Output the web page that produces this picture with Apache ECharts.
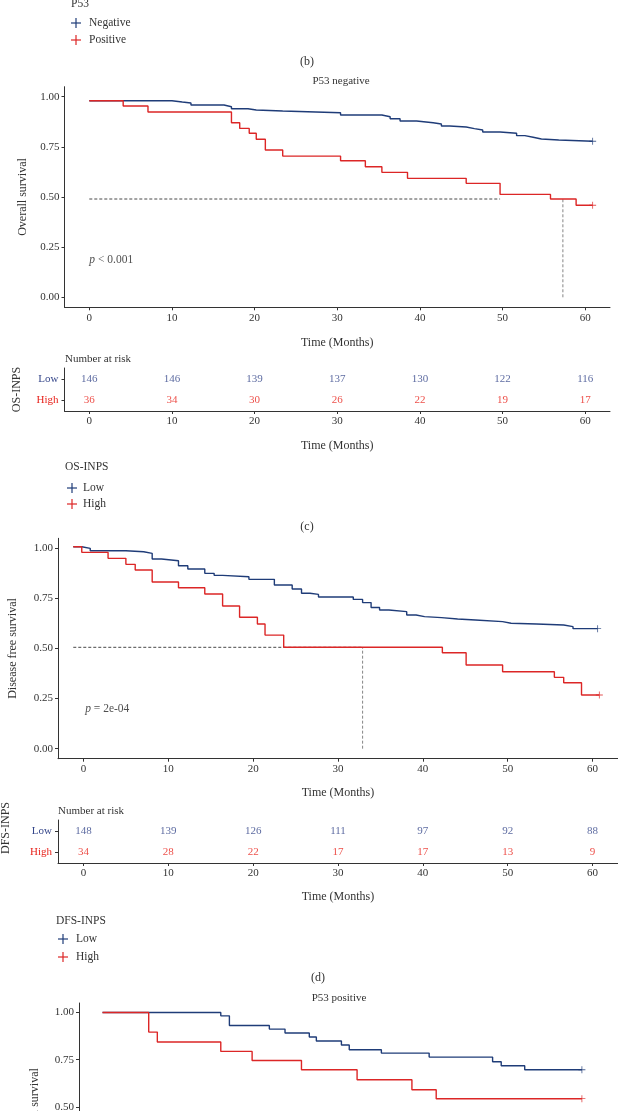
<!DOCTYPE html>
<html>
<head>
<meta charset="utf-8">
<script src="https://cdn.jsdelivr.net/npm/echarts@6/dist/echarts.min.js"></script>
<style>
html,body{margin:0;padding:0;background:#fff;overflow:hidden;}
#main{width:618px;height:1111px;}
</style>
</head>
<body>
<div id="main"></div>
<script>
// ---- data ----
var monthTicks = [0, 10, 20, 30, 40, 50, 60];
var survTicks = [0, 0.25, 0.5, 0.75, 1];
var riskGroups = ['High', 'Low'];

// (c) P53 negative, overall survival
var osLowT = [0, 10.0, 11.25, 12.3, 16.3, 17.2, 19.2, 20.2, 23.4, 30.4, 35.4, 36.4, 37.6, 39.6, 41.6, 42.6, 43.6, 45.6, 46.6, 47.6, 49.7, 51.7, 52.7, 53.7, 54.7, 56.8, 60.9];
var osLowS = [0.98, 0.974, 0.969, 0.959, 0.95, 0.94, 0.934, 0.929, 0.92, 0.909, 0.90, 0.89, 0.879, 0.87, 0.864, 0.854, 0.849, 0.841, 0.834, 0.824, 0.818, 0.806, 0.798, 0.789, 0.784, 0.778, 0.778];
var osHighT = [0, 4.1, 7.1, 17.2, 18.2, 19.35, 20.2, 21.3, 23.4, 30.4, 33.4, 35.4, 38.5, 45.6, 49.7, 55.8, 58.9, 60.9];
var osHighS = [0.98, 0.954, 0.924, 0.87, 0.842, 0.818, 0.788, 0.734, 0.704, 0.681, 0.651, 0.623, 0.593, 0.568, 0.513, 0.49, 0.459, 0.459];
var osMedianH = [[0, 0.49], [49.7, 0.49]];
var osMedianV = [[57.3, 0], [57.3, 0.49]];
var osLowRisk = [146, 146, 139, 137, 130, 122, 116];
var osHighRisk = [36, 34, 30, 26, 22, 19, 17];

// (d) disease free survival
var dfsLowT = [-1.2, -0.2, 0.8, 5.0, 7.1, 8.1, 9.2, 11.2, 12.3, 14.3, 15.4, 16.4, 19.5, 22.5, 24.6, 25.7, 26.7, 27.7, 31.8, 32.9, 33.9, 34.9, 36.0, 38.1, 39.2, 40.2, 42.2, 44.1, 46.2, 49.4, 50.4, 53.4, 56.6, 57.7, 60.6];
var dfsLowS = [1.008, 1.0, 0.988, 0.983, 0.975, 0.947, 0.938, 0.913, 0.897, 0.875, 0.865, 0.858, 0.845, 0.817, 0.797, 0.776, 0.770, 0.757, 0.745, 0.729, 0.705, 0.692, 0.684, 0.667, 0.659, 0.654, 0.647, 0.642, 0.634, 0.626, 0.622, 0.617, 0.609, 0.599, 0.599];
var dfsHighT = [-1.2, -0.2, 2.9, 5.0, 6.1, 8.1, 11.2, 14.3, 16.4, 18.4, 20.5, 21.4, 23.6, 42.3, 45.1, 49.4, 55.5, 56.6, 58.7, 60.8];
var dfsHighS = [1.008, 0.980, 0.950, 0.920, 0.892, 0.832, 0.803, 0.772, 0.712, 0.656, 0.622, 0.567, 0.506, 0.479, 0.418, 0.384, 0.356, 0.329, 0.268, 0.268];
var dfsMedianH = [[-1.2, 0.506], [32.9, 0.506]];
var dfsMedianV = [[32.9, 0], [32.9, 0.506]];
var dfsLowRisk = [148, 139, 126, 111, 97, 92, 88];
var dfsHighRisk = [34, 28, 22, 17, 17, 13, 9];

// P53 positive (cut off at the bottom)
var posLowT = [0, 15.1, 16.2, 21.3, 23.3, 26.4, 27.3, 30.5, 31.5, 35.6, 41.7, 49.8, 50.9, 53.9, 61.2];
var posLowS = [1.0, 0.982, 0.931, 0.912, 0.891, 0.870, 0.849, 0.828, 0.803, 0.785, 0.764, 0.739, 0.718, 0.697, 0.697];
var posHighT = [0, 5.9, 7.0, 15.1, 19.1, 25.4, 32.5, 39.5, 42.6, 61.2];
var posHighS = [1.0, 0.896, 0.844, 0.794, 0.746, 0.697, 0.644, 0.591, 0.544, 0.544];

// ---- style ----
var FONT = '"Liberation Serif", "DejaVu Serif", serif';
var INK = '#333';
var BLUE = '#1f3c78', RED = '#dc2626';
var BLUE_TXT = '#35468a', RED_TXT = '#e8231c';
var PLUS = 'path://M4.4,0H5.6V4.4H10V5.6H5.6V10H4.4V5.6H0V4.4H4.4Z';

var myChart = echarts.init(document.getElementById('main'));

function pairs(t, s) {
  return t.map(function (x, i) { return [x, s[i]]; });
}

function xAx(gi, gap, showName) {
  return {
    type: 'value', gridIndex: gi, min: -3, max: 63,
    axisLine: { show: true, onZero: false, lineStyle: { color: INK, width: 1 } },
    axisTick: { show: true, length: 3, customValues: monthTicks, lineStyle: { color: INK } },
    axisLabel: { customValues: monthTicks, color: INK, fontSize: 11, fontFamily: FONT, margin: 5 },
    splitLine: { show: false },
    name: showName ? 'Time (Months)' : '', nameLocation: 'middle', nameGap: gap,
    nameTextStyle: { color: INK, fontSize: 12, fontFamily: FONT }
  };
}

function yAx(gi, name, gap) {
  return {
    type: 'value', gridIndex: gi, min: -0.05, max: 1.05,
    axisLine: { show: true, onZero: false, lineStyle: { color: INK, width: 1 } },
    axisTick: { show: true, length: 3, customValues: survTicks, lineStyle: { color: INK } },
    axisLabel: {
      customValues: survTicks, color: INK, fontSize: 11, fontFamily: FONT, margin: 5,
      formatter: function (v) { return v.toFixed(2); }
    },
    splitLine: { show: false },
    name: name, nameLocation: 'middle', nameGap: gap,
    nameTextStyle: { color: INK, fontSize: 12, fontFamily: FONT }
  };
}

function riskY(gi, name, gap) {
  return {
    type: 'category', gridIndex: gi, data: riskGroups,
    axisLine: { show: true, onZero: false, lineStyle: { color: INK, width: 1 } },
    axisTick: { show: true, length: 3, alignWithLabel: true, lineStyle: { color: INK } },
    axisLabel: {
      fontSize: 11, fontFamily: FONT, margin: 6,
      color: function (v) { return v === 'Low' ? BLUE_TXT : RED_TXT; }
    },
    name: name, nameLocation: 'middle', nameGap: gap,
    nameTextStyle: { color: INK, fontSize: 12, fontFamily: FONT }
  };
}

function curve(gi, t, s, color) {
  return {
    type: 'line', xAxisIndex: gi, yAxisIndex: gi, step: 'end',
    symbol: 'none', silent: true, z: 3,
    lineStyle: { color: color, width: 1.4 },
    data: pairs(t, s)
  };
}

function censor(gi, t, s, color) {
  return {
    type: 'scatter', xAxisIndex: gi, yAxisIndex: gi, symbol: PLUS, symbolSize: 7,
    itemStyle: { color: color }, silent: true, z: 4,
    data: [[t[t.length - 1], s[s.length - 1]]]
  };
}

function dashed(gi, pts, color) {
  return {
    type: 'line', xAxisIndex: gi, yAxisIndex: gi, symbol: 'none', silent: true, z: 2,
    lineStyle: { color: color, width: 0.9, type: [3, 2] },
    data: pts
  };
}

function riskRow(gi, group, vals, color) {
  return {
    type: 'scatter', xAxisIndex: gi, yAxisIndex: gi, symbolSize: 0, silent: true,
    label: {
      show: true, position: 'inside', color: color, fontSize: 11, fontFamily: FONT,
      formatter: function (p) { return p.value[2]; }
    },
    data: monthTicks.map(function (m, i) { return [m, group, vals[i]]; })
  };
}

function pval(gi, pt, txt) {
  return {
    type: 'scatter', xAxisIndex: gi, yAxisIndex: gi, symbolSize: 0, silent: true,
    label: {
      show: true, position: 'right', distance: 0, color: '#222', fontSize: 11.5, fontFamily: FONT,
      formatter: '{i|p} ' + txt,
      rich: { i: { fontStyle: 'italic', fontSize: 11.5, fontFamily: FONT, color: '#222' } }
    },
    data: [pt]
  };
}

function txt(x, y, s, opt) {
  return {
    type: 'text', x: x, y: y, silent: true,
    style: Object.assign({ text: s, fill: INK, font: '11px ' + FONT, textAlign: 'left', textVerticalAlign: 'middle' }, opt || {})
  };
}

function legendItem(x, y, label, color, textX) {
  return [
    { type: 'line', silent: true, shape: { x1: x - 5, y1: y, x2: x + 5, y2: y }, style: { stroke: color, lineWidth: 1.2 } },
    { type: 'line', silent: true, shape: { x1: x, y1: y - 5, x2: x, y2: y + 5 }, style: { stroke: color, lineWidth: 1.2 } },
    txt(textX, y, label, { font: '11.5px ' + FONT })
  ];
}

var dfsTableName = txt(6, 828, 'DFS-INPS', { textAlign: 'center', font: '12px ' + FONT });
dfsTableName.rotation = Math.PI / 2;

var graphics = [
  txt(71, 4, 'P53', { font: '11.5px ' + FONT }),
  txt(307, 62, '(b)', { textAlign: 'center', font: '12px ' + FONT }),
  txt(341, 81, 'P53 negative', { textAlign: 'center' }),
  txt(65, 359, 'Number at risk'),
  txt(65, 467, 'OS-INPS', { font: '11.5px ' + FONT }),
  txt(307, 527, '(c)', { textAlign: 'center', font: '12px ' + FONT }),
  txt(58, 811, 'Number at risk'),
  dfsTableName,
  txt(56, 921, 'DFS-INPS', { font: '11.5px ' + FONT }),
  txt(318, 978, '(d)', { textAlign: 'center', font: '12px ' + FONT }),
  txt(339, 998, 'P53 positive', { textAlign: 'center' })
].concat(
  legendItem(76, 23, 'Negative', BLUE, 89),
  legendItem(76, 40, 'Positive', RED, 89),
  legendItem(72, 488, 'Low', BLUE, 83),
  legendItem(72, 504, 'High', RED, 83),
  legendItem(63, 939, 'Low', BLUE, 76),
  legendItem(63, 957, 'High', RED, 76)
);

function grid(left, right, top, height) {
  return { left: left, right: right, top: top, height: height, containLabel: false, outerBoundsMode: 'none' };
}

myChart.setOption({
  animation: false,
  backgroundColor: '#fff',
  textStyle: { fontFamily: FONT },
  grid: [
    grid(64.5, 8, 86.7, 220.6),
    grid(64.5, 8, 368, 43),
    grid(58, 0, 538.3, 220.4),
    grid(58, 0, 820, 43),
    grid(79, 22, 1003, 208)
  ],
  xAxis: [xAx(0, 30, true), xAx(1, 29, true), xAx(2, 28, true), xAx(3, 28, true), xAx(4, 30, false)],
  yAxis: [
    yAx(0, 'Overall survival', 36),
    riskY(1, 'OS-INPS', 42),
    yAx(2, 'Disease free survival', 39),
    riskY(3, '', 46),
    yAx(4, 'Overall survival', 38)
  ],
  graphic: graphics,
  series: [
    dashed(0, osMedianH, '#333'),
    dashed(0, osMedianV, '#777'),
    curve(0, osLowT, osLowS, BLUE),
    curve(0, osHighT, osHighS, RED),
    censor(0, osLowT, osLowS, BLUE),
    censor(0, osHighT, osHighS, RED),
    pval(0, [0, 0.186], '< 0.001'),
    riskRow(1, 'Low', osLowRisk, BLUE_TXT),
    riskRow(1, 'High', osHighRisk, RED_TXT),
    dashed(2, dfsMedianH, '#333'),
    dashed(2, dfsMedianV, '#777'),
    curve(2, dfsLowT, dfsLowS, BLUE),
    curve(2, dfsHighT, dfsHighS, RED),
    censor(2, dfsLowT, dfsLowS, BLUE),
    censor(2, dfsHighT, dfsHighS, RED),
    pval(2, [0.2, 0.198], '= 2e-04'),
    riskRow(3, 'Low', dfsLowRisk, BLUE_TXT),
    riskRow(3, 'High', dfsHighRisk, RED_TXT),
    curve(4, posLowT, posLowS, BLUE),
    curve(4, posHighT, posHighS, RED),
    censor(4, posLowT, posLowS, BLUE),
    censor(4, posHighT, posHighS, RED)
  ]
});
</script>
</body>
</html>
